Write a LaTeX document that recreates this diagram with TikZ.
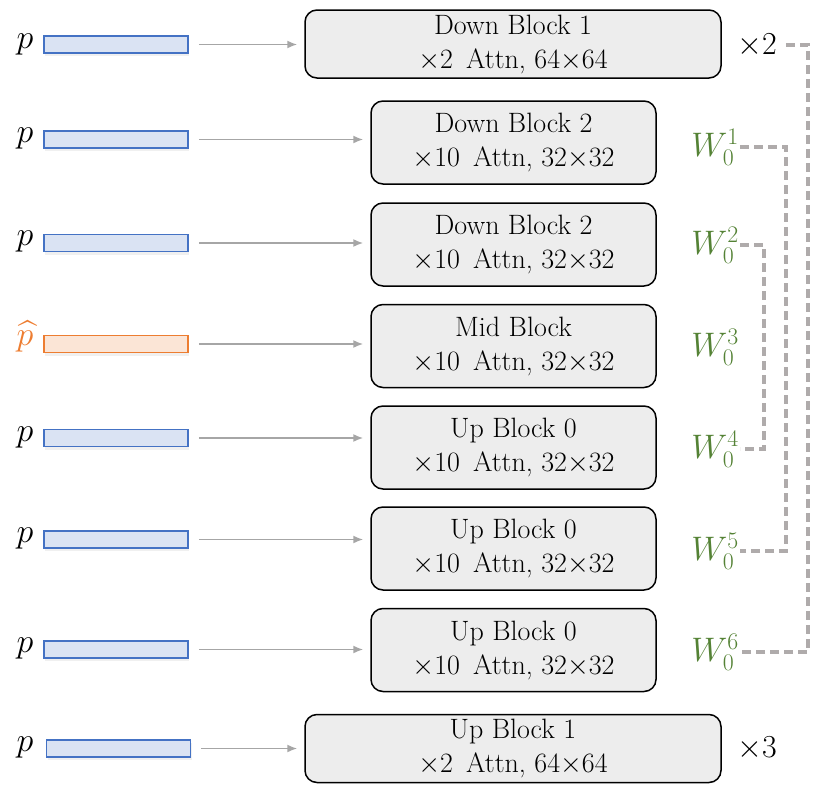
\documentclass[tikz,border=0pt]{standalone}
\usepackage{fix-cm}
\usepackage{amssymb,amsmath}
\usepackage{fontspec}
\usetikzlibrary{arrows.meta,shadows}

\definecolor{barblue}{HTML}{DAE3F3}
\definecolor{edgeblue}{HTML}{4472C4}
\definecolor{barorange}{HTML}{FBE5D6}
\definecolor{edgeorange}{HTML}{ED7D31}
\definecolor{blkgray}{HTML}{EDEDED}
\definecolor{arrgray}{HTML}{A6A6A6}
\definecolor{dashgray}{HTML}{AFABAB}
\definecolor{wgreen}{HTML}{548235}

\tikzset{
  bar/.style={draw=edgeblue, fill=barblue, line width=1.8pt, minimum width=144pt,
    minimum height=17pt, inner sep=0pt,
    drop shadow={opacity=0.12, shadow xshift=1pt, shadow yshift=-3pt}},
  hatbar/.style={bar, draw=edgeorange, fill=barorange},
  blk/.style={draw, fill=blkgray, rounded corners=12pt, line width=1.5pt, align=center,
    inner sep=0pt, font=\fontsize{28}{34}\selectfont},
  wide/.style={blk, minimum width=416pt, minimum height=68pt},
  slim/.style={blk, minimum width=285pt, minimum height=83pt},
  feed/.style={-{Latex[length=10pt,width=8pt]}, draw=arrgray, line width=1.6pt,
    shorten <=10pt, shorten >=7pt},
  wlab/.style={text=wgreen, inner sep=1pt, font=\fontsize{34}{34}\selectfont},
  wlink/.style={draw=dashgray, line width=3.5pt, dash pattern=on 9pt off 5pt},
  plab/.style={inner sep=1pt, font=\fontsize{34}{34}\selectfont},
  rep/.style={inner sep=1pt, font=\fontsize{32}{32}\selectfont}
}

\begin{document}
\begin{tikzpicture}[x=1pt,y=-1pt]
  \useasboundingbox (0,0) rectangle (814,803);

  \node[plab] (p1) at (25,44) {$p$};
  \node[plab] (p2) at (25,138) {$p$};
  \node[plab] (p3) at (25,241) {$p$};
  \node[plab,text=edgeorange] (p4) at (25,337) {$\widehat{p}$};
  \node[plab] (p5) at (25,437) {$p$};
  \node[plab] (p6) at (25,538) {$p$};
  \node[plab] (p7) at (25,648) {$p$};
  \node[plab] (p8) at (25,747) {$p$};

  \node[bar] (e1) at (116,44.5) {};
  \node[bar] (e2) at (116,139.5) {};
  \node[bar] (e3) at (116,243) {};
  \node[hatbar] (e4) at (116,344) {};
  \node[bar] (e5) at (116,438) {};
  \node[bar] (e6) at (116,539.5) {};
  \node[bar] (e7) at (116,649.5) {};
  \node[bar] (e8) at (118.5,748.5) {};

  \node[wide] (b1) at (513,44) {Down Block 1\\$\times$2\, Attn, 64$\times$64};
  \node[slim] (b2) at (513.5,142.5) {Down Block 2\\$\times$10\, Attn, 32$\times$32};
  \node[slim] (b3) at (513.5,244.5) {Down Block 2\\$\times$10\, Attn, 32$\times$32};
  \node[slim] (b4) at (513.5,346) {Mid Block\\$\times$10\, Attn, 32$\times$32};
  \node[slim] (b5) at (513.5,447.5) {Up Block 0\\$\times$10\, Attn, 32$\times$32};
  \node[slim] (b6) at (513.5,548.5) {Up Block 0\\$\times$10\, Attn, 32$\times$32};
  \node[slim] (b7) at (513.5,650) {Up Block 0\\$\times$10\, Attn, 32$\times$32};
  \node[wide] (b8) at (513,748.5) {Up Block 1\\$\times$2\, Attn, 64$\times$64};

  \draw[feed] (e1.east) -- (b1.west |- e1.east);
  \draw[feed] (e2.east) -- (b2.west |- e2.east);
  \draw[feed] (e3.east) -- (b3.west |- e3.east);
  \draw[feed] (e4.east) -- (b4.west |- e4.east);
  \draw[feed] (e5.east) -- (b5.west |- e5.east);
  \draw[feed] (e6.east) -- (b6.west |- e6.east);
  \draw[feed] (e7.east) -- (b7.west |- e7.east);
  \draw[feed] (e8.east) -- (b8.west |- e8.east);

  \node[rep] (r1) at (757,45) {$\times$2};
  \node[rep] (r8) at (757,748) {$\times$3};

  \node[wlab,anchor=east] (w1) at (740,147) {$W_0^1$};
  \node[wlab,anchor=east] (w2) at (740,245) {$W_0^2$};
  \node[wlab,anchor=east] (w3) at (740,347) {$W_0^3$};
  \node[wlab,anchor=east] (w4) at (740,449) {$W_0^4$};
  \node[wlab,anchor=east] (w5) at (740,551) {$W_0^5$};
  \node[wlab,anchor=east] (w6) at (740,652) {$W_0^6$};

  \draw[wlink] ([xshift=8pt]r1.east) -- (808,45) |- (w6.east);
  \draw[wlink] (w1.east) -- (786,147) |- (w5.east);
  \draw[wlink] (w2.east) -- (764,245) |- (w4.east);
\end{tikzpicture}
\end{document}
